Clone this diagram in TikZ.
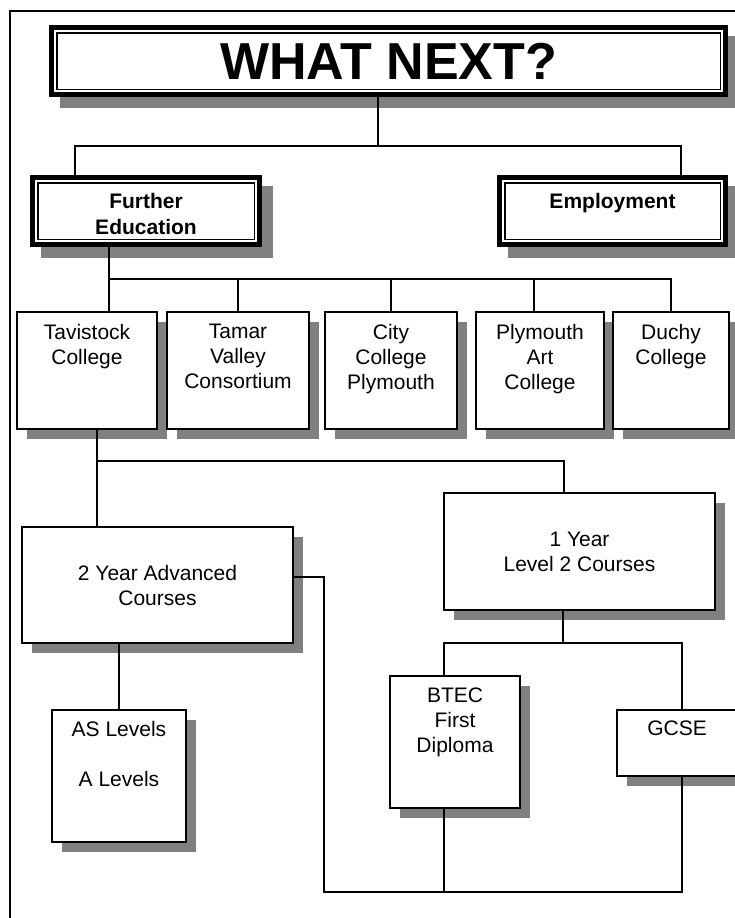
\documentclass[tikz,border=0pt]{standalone}
\usepackage{fontspec}
\setmainfont{Liberation Sans}
\usetikzlibrary{shadows}
\tikzset{
    course/.style={draw,line width=2pt,fill=white,
        drop shadow={shadow xshift=10pt,shadow yshift=-10pt,fill=black!50,opacity=1}},
    route/.style={draw,line width=1.5pt,fill=white,outer sep=7.75pt,
        drop shadow={shadow xshift=11pt,shadow yshift=-11pt,fill=black!50,draw=black!50,line width=15.5pt,opacity=1},
        preaction={draw=black,line width=15.5pt},
        preaction={draw=white,line width=5.5pt}},
    txt/.style={align=center,font=\fontsize{21}{25}\selectfont},
    lbl/.style={txt,anchor=north,inner sep=0pt,yshift=-#1pt},
    lbl/.default=13,
    blbl/.style={lbl=18,font=\fontsize{21}{26}\selectfont\bfseries},
    link/.style={line width=1.2pt}
}
\begin{document}
\begin{tikzpicture}[x=1pt,y=-1pt]
    \useasboundingbox (0,0) rectangle (735,918);
    \clip (0,0) rectangle (735,918);
    \draw[line width=2pt] (10,930) -- (10,11) -- (750,11);

    \node[route,minimum width=663.5pt,minimum height=56.5pt,inner sep=0pt,font=\fontsize{52}{60}\selectfont\bfseries] (what) at (388.5,61) {WHAT NEXT?};
    \node[route,minimum width=216.5pt,minimum height=56.5pt,label={[blbl]north:Further\\Education}] (fe) at (146,211) {};
    \node[route,minimum width=215.5pt,minimum height=56.5pt,label={[blbl]north:Employment}] (emp) at (612.5,211) {};

    \node[course,minimum width=140pt,minimum height=117pt,label={[lbl]north:Tavistock\\College}] (tav) at (87,370.5) {};
    \node[course,minimum width=142pt,minimum height=117pt,label={[lbl]north:Tamar\\Valley\\Consortium}] (tam) at (238,370.5) {};
    \node[course,minimum width=132pt,minimum height=117pt,label={[lbl]north:City\\College\\Plymouth}] (city) at (391,370.5) {};
    \node[course,minimum width=128pt,minimum height=117pt,label={[lbl]north:Plymouth\\Art\\College}] (art) at (540,370.5) {};
    \node[course,minimum width=116pt,minimum height=117pt,label={[lbl]north:Duchy\\College}] (duchy) at (671,370.5) {};

    \node[course,txt,minimum width=271pt,minimum height=116pt] (adv) at (157.5,585) {2 Year Advanced\\Courses};
    \node[course,txt,minimum width=271pt,minimum height=117pt] (lvl) at (579.5,551.5) {1 Year\\Level 2 Courses};
    \node[course,minimum width=134pt,minimum height=132pt,label={[lbl=12]north:{AS Levels\\[25pt]A Levels}}] (as) at (119,776) {};
    \node[course,minimum width=130pt,minimum height=132pt,label={[lbl]north:BTEC\\First\\Diploma}] (btec) at (455,742) {};
    \node[course,minimum width=120pt,minimum height=66pt,label={[lbl=12]north:GCSE}] (gcse) at (677,743) {};

    \coordinate (j1) at (378,146);
    \coordinate (j2) at (109,279);
    \coordinate (j3) at (97,461);
    \coordinate (j4) at (564,461);
    \coordinate (j5) at (563,643);
    \coordinate (j6) at (324,577);
    \coordinate (j7) at (324,892);
    \coordinate (j8) at (444,643);
    \coordinate (j9) at (682,643);

    \draw[link] (what.south -| j1) -- (j1);
    \draw[link] ([xshift=-71pt]fe.north) |- (j1) -| ([xshift=68.5pt]emp.north);
    \draw[link] (fe.south -| j2) -- (tav.north -| j2);
    \draw[link] (j2) -| (tam.north);
    \draw[link] (j2) -| (city.north);
    \draw[link] (j2) -| ([xshift=-6pt]art.north);
    \draw[link] (j2) -| (duchy.north);
    \draw[link] (tav.south -| j3) -- (adv.north -| j3);
    \draw[link] (j3) -- (j4) -- (lvl.north -| j4);
    \draw[link] (adv.south -| as.north) -- (as.north);
    \draw[link] (lvl.south -| j5) -- (j5);
    \draw[link] (j8 |- btec.north) -- (j8) -- (j9) -- (j9 |- gcse.north);
    \draw[link] (adv.east |- j6) -- (j6) -- (j7) -- (j7 -| j9) -- (j9 |- gcse.south);
    \draw[link] (btec.south -| j8) -- (j7 -| j8);
\end{tikzpicture}
\end{document}
